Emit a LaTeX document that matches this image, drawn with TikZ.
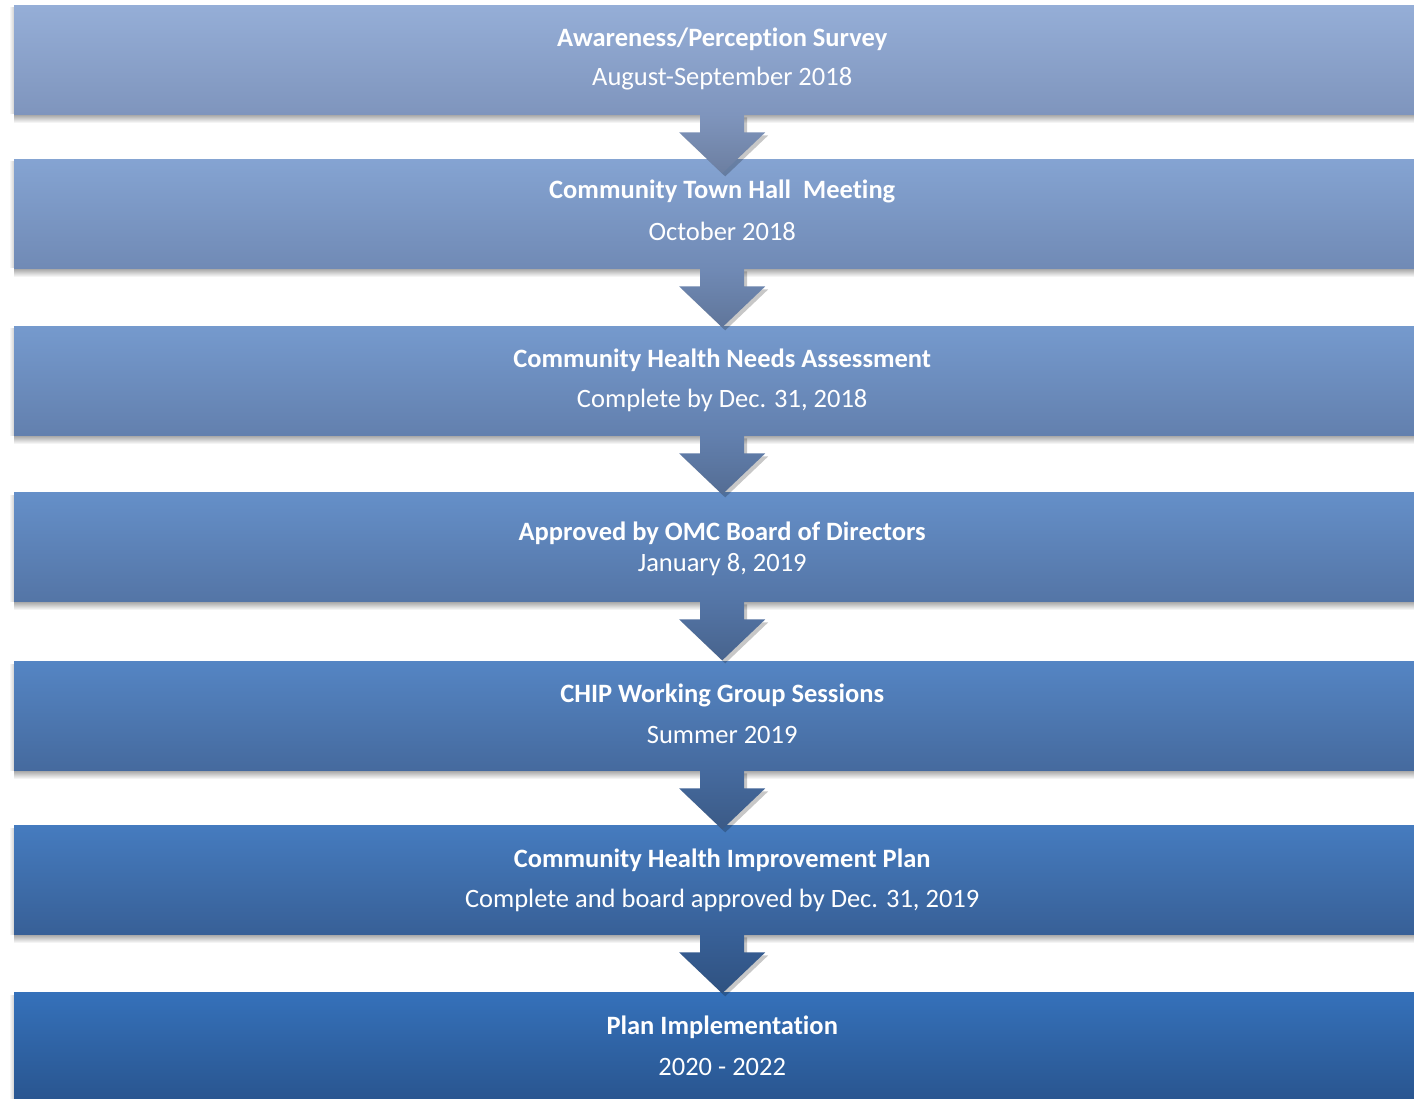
\documentclass[tikz,border=0pt]{standalone}
\usepackage{fontspec}
\setmainfont{Carlito}[Ligatures=NoCommon]
\usetikzlibrary{calc}
\definecolor{topA}{HTML}{95AED7}
\definecolor{topB}{HTML}{3571BA}
\definecolor{botA}{HTML}{7F95BD}
\definecolor{botB}{HTML}{29558F}
\tikzset{
  stagebox/.style={minimum width=1416pt, minimum height=109pt, inner sep=0pt, anchor=north west, draw=none},
  titletext/.style={text=white, inner sep=0pt, font=\fontsize{26.5}{30}\selectfont\bfseries},
  subtext/.style={text=white, inner sep=0pt, font=\fontsize{26.5}{30}\selectfont},
  boxshadow/.style={top color=black!38, bottom color=white, draw=none},
  sideshadow/.style={left color=white, right color=black!18, draw=none},
  arrowshadow/.style={fill=black, opacity=0.22, draw=none},
}
% #1 name, #2 top y, #3 mix, #4 title offset, #5 sub offset, #6 title, #7 sub
\newcommand\stagenode[7]{%
  \shade[sideshadow] (9,#2+3) rectangle (14,#2+109);
  \shade[boxshadow] (14,#2+109) rectangle (1414,#2+118);
  \node[stagebox, top color=topB!#3!topA, bottom color=botB!#3!botA] (#1) at (14,#2) {};
  \node[titletext] (#1t) at ($(#1.north)+(0,#4)$) {#6};
  \node[subtext] (#1s) at ($(#1.north)+(0,#5)$) {#7};
}
% #1 from box, #2 mix
\newcommand\flowarrow[2]{%
  \coordinate (#1tip) at ($(#1.south)+(0,59)$);
  \fill[arrowshadow] ($(#1.south)+(-19,3)$) -- ++(44,0) -- ++(0,18) -- ++(21,0) -- ($(#1tip)+(3,3)$) -- ($(#1.south)+(-40,21)$) -- ++(21,0) -- cycle;
  \shade[top color=botB!#2!botA, bottom color={botB!#2!botA!85!black}] ($(#1.south)+(-22,0)$) -- ++(44,0) -- ++(0,18) -- ++(21,0) -- (#1tip) -- ($(#1.south)+(-43,18)$) -- ++(21,0) -- cycle;
}
\begin{document}
\begin{tikzpicture}[x=1pt,y=-1pt]
\clip (0,0) rectangle (1414,1099);
\fill[white] (0,0) rectangle (1414,1099);
\stagenode{s1}{5}{0}{34}{74}{Awareness/Perception Survey}{August-September 2018}
\stagenode{s2}{159}{17}{32}{72}{Community Town Hall\ \ Meeting}{October 2018}
\stagenode{s3}{326}{33}{34}{74}{Community Health Needs Assessment}{Complete by Dec. 31, 2018}
\stagenode{s4}{492}{50}{41}{73}{Approved by OMC Board of Directors}{January 8, 2019}
\stagenode{s5}{661}{67}{34}{74}{CHIP Working Group Sessions}{Summer 2019}
\stagenode{s6}{825}{83}{35}{75}{Community Health Improvement Plan}{Complete and board approved by Dec. 31, 2019}
\stagenode{s7}{992}{100}{35}{75}{Plan Implementation}{2020 - 2022}
\flowarrow{s1}{0}
\flowarrow{s2}{17}
\flowarrow{s3}{33}
\flowarrow{s4}{50}
\flowarrow{s5}{67}
\flowarrow{s6}{83}
\end{tikzpicture}
\end{document}
